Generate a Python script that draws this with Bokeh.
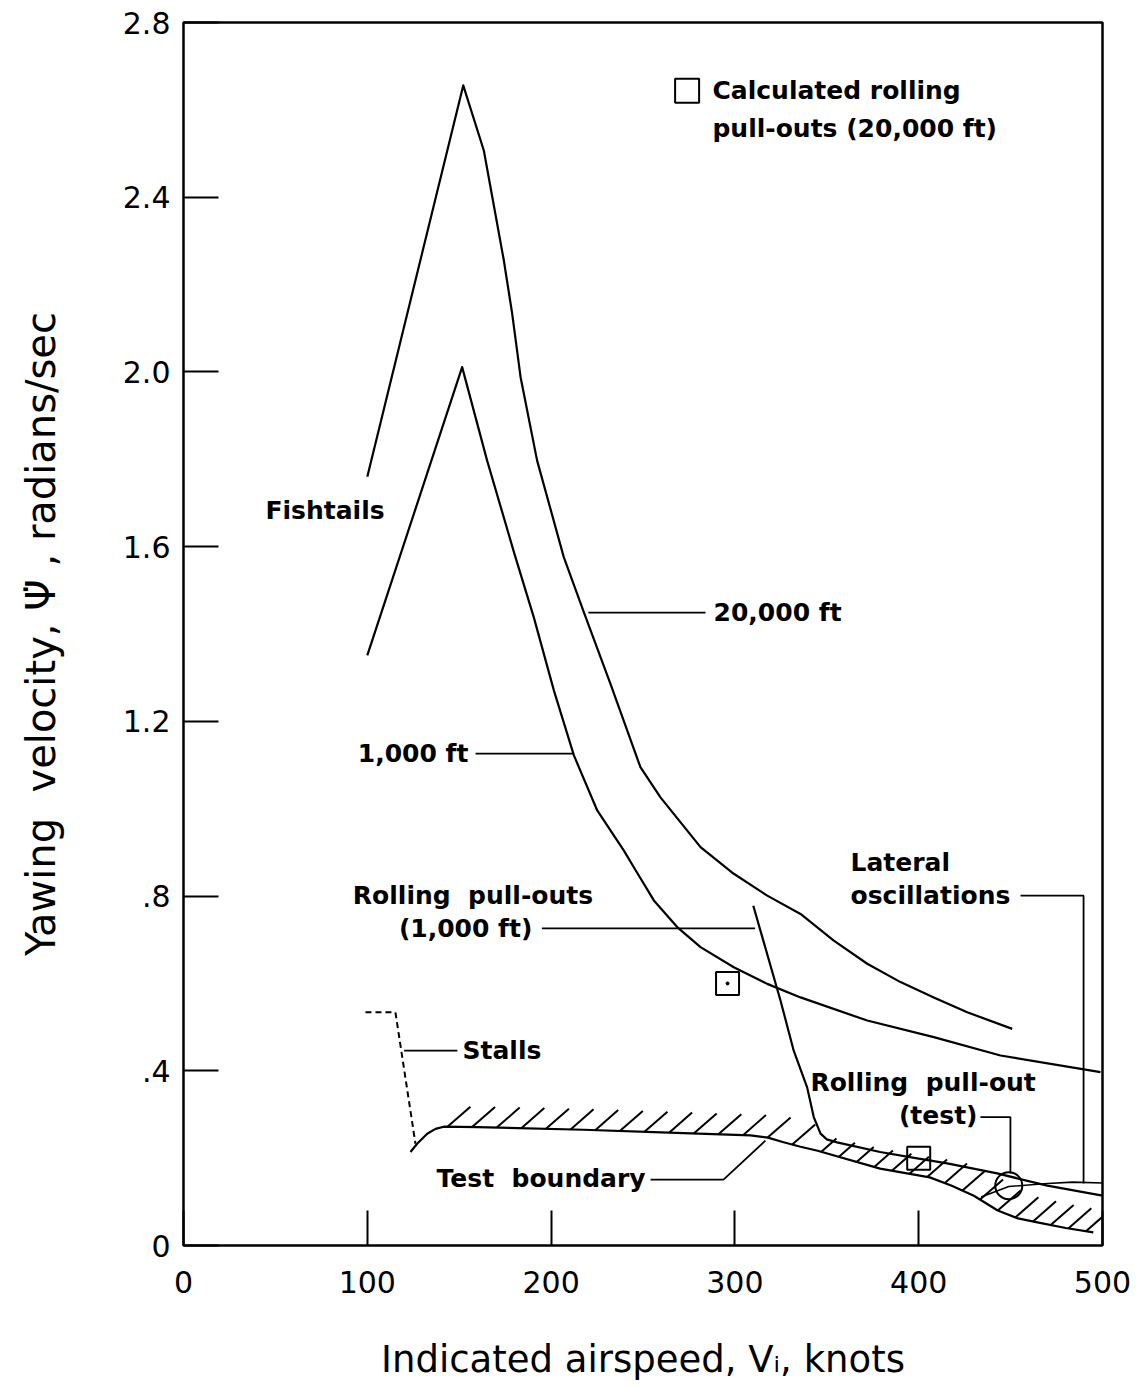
import numpy as np
from bokeh.plotting import figure
from bokeh.models import Range1d, FixedTicker
from bokeh.core.properties import value
from bokeh.embed import file_html
from bokeh.resources import INLINE

FONT = "DejaVu Sans"
NB = "\u00a0"

# ---- data (indicated airspeed in knots, yawing velocity in rad/sec) ----
alt20k_v = [100, 152.2, 163.4, 174.3, 178.8, 183.4, 192.4, 206.9, 217.8, 232.3, 248.6, 259.5,
            281.3, 299.4, 317.6, 335.7, 353.8, 372, 390.1, 408.2, 426.4, 450.9]
alt20k_y = [1.76, 2.656, 2.507, 2.255, 2.134, 1.988, 1.797, 1.576, 1.450, 1.286, 1.095, 1.026,
            0.912, 0.851, 0.801, 0.759, 0.698, 0.645, 0.603, 0.568, 0.534, 0.496]

alt1k_v = [100, 151.6, 165.2, 180.1, 190.6, 201.5, 212.4, 225.1, 239.6, 245, 255.9, 268.6,
           281.3, 299.4, 317.6, 335.7, 372, 408.2, 444.5, 498.9]
alt1k_y = [1.351, 2.011, 1.797, 1.583, 1.438, 1.271, 1.122, 0.996, 0.904, 0.866, 0.790, 0.729,
           0.683, 0.637, 0.599, 0.568, 0.515, 0.477, 0.435, 0.397]

roll1k_v = [310, 324.8, 332, 339.3, 342.9, 346.6, 350, 355.6, 379, 400, 415.5, 442.7, 470, 500]
roll1k_y = [0.778, 0.561, 0.446, 0.362, 0.294, 0.256, 0.243, 0.236, 0.214, 0.199, 0.188, 0.165, 0.137, 0.114]

boundary_v = [123.5, 127.1, 132.6, 137.1, 141.6, 160, 217.6, 260, 308.5, 318, 326, 335.7, 345,
              379, 406, 418, 430, 443, 454, 464.6, 480, 495]
boundary_y = [0.214, 0.233, 0.256, 0.267, 0.272, 0.271, 0.265, 0.259, 0.252, 0.247, 0.237, 0.226, 0.217,
              0.176, 0.156, 0.137, 0.114, 0.080, 0.062, 0.053, 0.040, 0.030]

stall_v = [99, 115.3, 126.2]
stall_y = [0.534, 0.534, 0.233]

roll_test_v = [434, 449, 470, 484, 500]
roll_test_y = [0.111, 0.135, 0.142, 0.145, 0.143]

calc_v = [296, 400]
calc_y = [0.60, 0.20]

test_pt_v = [449]
test_pt_y = [0.137]

x_ticks = [0, 100, 200, 300, 400, 500]
y_ticks = [0.0, 0.4, 0.8, 1.2, 1.6, 2.0, 2.4, 2.8]
y_tick_labels = ["0", ".4", ".8", "1.2", "1.6", "2.0", "2.4", "2.8"]

p = figure(width=1145, height=1386, output_backend="svg", toolbar_location=None,
           x_range=Range1d(0, 500), y_range=Range1d(0, 2.8),
           min_border_left=183, min_border_right=43, min_border_top=22, min_border_bottom=141)
p.background_fill_color = "white"
p.border_fill_color = "white"
p.outline_line_color = "black"
p.outline_line_width = 2.5
p.grid.visible = False

for ax in (p.xaxis[0], p.yaxis[0]):
    ax.axis_line_color = None
    ax.major_tick_in = 35
    ax.major_tick_out = 0
    ax.major_tick_line_width = 2
    ax.major_tick_line_color = "black"
    ax.minor_tick_line_color = None
    ax.major_label_text_font = FONT
    ax.major_label_text_font_size = "30px"
    ax.major_label_text_color = "black"
    ax.axis_label_text_font = FONT
    ax.axis_label_text_font_style = "normal"
    ax.axis_label_text_color = "black"

p.xaxis.ticker = FixedTicker(ticks=x_ticks)
p.yaxis.ticker = FixedTicker(ticks=y_ticks)
p.yaxis.major_label_overrides = {t: s for t, s in zip(y_ticks, y_tick_labels)}
p.xaxis.major_label_standoff = 25
p.yaxis.major_label_standoff = 13
p.xaxis.axis_label = "Indicated airspeed, V\u1d62, knots"
p.yaxis.axis_label = "Yawing" + NB + " velocity, \u03a8\u0307 , radians/sec"
p.xaxis.axis_label_text_font_size = "37px"
p.yaxis.axis_label_text_font_size = "40px"
p.xaxis.axis_label_standoff = 42
p.yaxis.axis_label_standoff = 56

LW = 2.2
p.line(alt20k_v, alt20k_y, line_color="black", line_width=LW, line_join="round")
p.line(alt1k_v, alt1k_y, line_color="black", line_width=LW, line_join="round")
p.line(roll1k_v, roll1k_y, line_color="black", line_width=LW, line_join="round")
p.line(boundary_v, boundary_y, line_color="black", line_width=LW, line_join="round")
p.line(roll_test_v, roll_test_y, line_color="black", line_width=1.6)
p.line(stall_v, stall_y, line_color="black", line_width=2, line_dash="6 4")

# hatching on the tested side of the boundary
bv = np.array(boundary_v)
by = np.array(boundary_y)
rv = np.array(roll1k_v)
ry = np.array(roll1k_y)
starts = np.concatenate([np.arange(143.6, 340, 13.4), np.arange(347, 494, 9.6)])
hx0, hy0, hx1, hy1 = [], [], [], []
for s in starts:
    y0 = np.interp(s, bv, by)
    t_end = 1.0
    for t in np.linspace(0, 1, 60):
        xx = s + 12.5 * t
        yy = y0 + 0.046 * t
        if xx > 500:
            t_end = t
            break
        if xx >= rv[0] and yy > np.interp(xx, rv, ry) + 0.008:
            t_end = t
            break
    hx0.append(s)
    hy0.append(y0)
    hx1.append(s + 12.5 * t_end)
    hy1.append(y0 + 0.046 * t_end)
p.segment(hx0, hy0, hx1, hy1, line_color="black", line_width=2)

# markers
p.scatter(calc_v, calc_y, marker="square", size=23, fill_color=None, line_color="black", line_width=2)
p.scatter(calc_v[:1], calc_y[:1], marker="circle", size=3, fill_color="black", line_color="black")
p.scatter(test_pt_v, test_pt_y, marker="circle", size=27, fill_color=None, line_color="black", line_width=2)
p.scatter([274], [2.644], marker="square", size=24, fill_color=None, line_color="black", line_width=2)

# leader lines
leaders = [
    ([220.3, 284], [1.449, 1.449]),
    ([158.9, 212.2], [1.126, 1.126]),
    ([195, 311], [0.726, 0.726]),
    ([120, 149], [0.446, 0.446]),
    ([254.1, 293.8, 316.6], [0.151, 0.151, 0.240]),
    ([433.6, 449.9, 449.9], [0.294, 0.294, 0.165]),
    ([455.4, 489.7, 489.7], [0.801, 0.801, 0.142]),
]
for lx, ly in leaders:
    p.line(lx, ly, line_color="black", line_width=1.8)

def label(x, y, txt, align="left"):
    p.text([x], [y], text=[txt], text_font=value(FONT), text_font_size="25px",
           text_font_style="bold", text_color="black", text_align=align,
           text_baseline="middle")

label(44.6, 1.683, "Fishtails")
label(288.4, 1.449, "20,000 ft")
label(155, 1.126, "1,000 ft", "right")
label(157.5, 0.801, "Rolling" + NB + " pull-outs", "center")
label(153.5, 0.726, "(1,000 ft)", "center")
label(362.9, 0.877, "Lateral")
label(362.9, 0.801, "oscillations")
label(341.1, 0.373, "Rolling" + NB + " pull-out")
label(432, 0.298, "(test)", "right")
label(151.8, 0.446, "Stalls")
label(251.4, 0.153, "Test" + NB + " boundary", "right")
label(287.8, 2.644, "Calculated rolling")
label(287.8, 2.557, "pull-outs (20,000 ft)")

open("out.html", "w").write(file_html(p, INLINE))
